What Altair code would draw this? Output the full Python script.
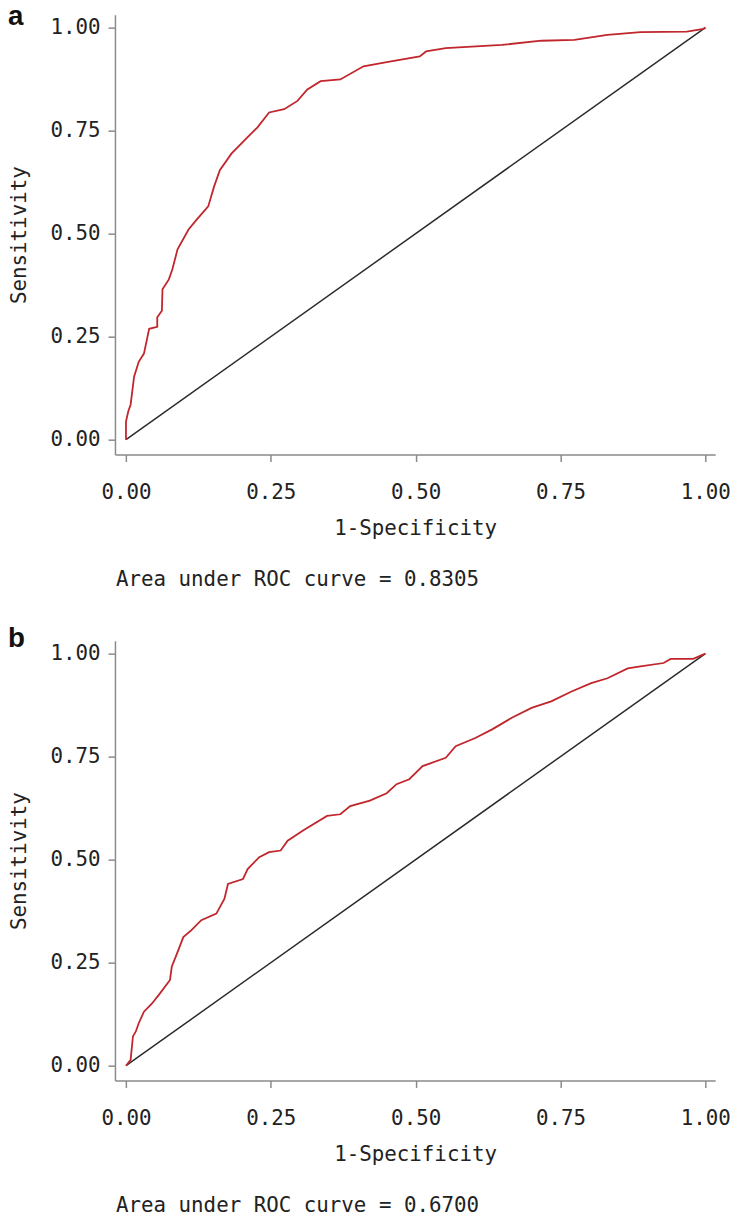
import altair as alt
import pandas as pd

# ---- data ----
fpr_a = [0, 0, 0.004, 0.008, 0.014, 0.022, 0.031, 0.040, 0.054, 0.054, 0.062, 0.063,
         0.074, 0.080, 0.089, 0.108, 0.122, 0.142, 0.152, 0.162, 0.182, 0.207, 0.227,
         0.247, 0.273, 0.296, 0.313, 0.336, 0.370, 0.410, 0.450, 0.507, 0.518, 0.552,
         0.649, 0.717, 0.774, 0.831, 0.888, 0.968, 0.997, 1.0]
tpr_a = [0, 0.044, 0.069, 0.085, 0.153, 0.189, 0.209, 0.269, 0.274, 0.297, 0.313, 0.365,
         0.389, 0.413, 0.462, 0.510, 0.534, 0.566, 0.614, 0.654, 0.694, 0.730, 0.758,
         0.794, 0.802, 0.822, 0.850, 0.870, 0.874, 0.906, 0.916, 0.930, 0.942, 0.950,
         0.958, 0.968, 0.970, 0.982, 0.989, 0.990, 0.997, 1.0]

fpr_b = [0, 0.008, 0.012, 0.017, 0.022, 0.031, 0.045, 0.059, 0.076, 0.079, 0.088, 0.099,
         0.113, 0.130, 0.156, 0.170, 0.176, 0.202, 0.210, 0.230, 0.247, 0.267, 0.279,
         0.307, 0.347, 0.370, 0.387, 0.421, 0.450, 0.467, 0.489, 0.512, 0.552, 0.569,
         0.603, 0.632, 0.666, 0.700, 0.734, 0.769, 0.803, 0.831, 0.866, 0.888, 0.928,
         0.940, 0.979, 0.997, 1.0]
tpr_b = [0, 0.014, 0.071, 0.083, 0.103, 0.131, 0.151, 0.176, 0.208, 0.240, 0.272, 0.312,
         0.329, 0.353, 0.369, 0.405, 0.441, 0.453, 0.477, 0.506, 0.518, 0.522, 0.546,
         0.572, 0.606, 0.610, 0.630, 0.643, 0.661, 0.683, 0.695, 0.727, 0.747, 0.775,
         0.795, 0.816, 0.844, 0.868, 0.884, 0.908, 0.928, 0.940, 0.964, 0.969, 0.977,
         0.987, 0.987, 0.998, 1.0]

diag = [0.0, 1.0]
tick_values = [0.0, 0.25, 0.5, 0.75, 1.0]
panel_labels = ["a", "b"]
auc_texts = ["Area under ROC curve = 0.8305", "Area under ROC curve = 0.6700"]
x_title = "1-Specificity"
y_title = "Sensitivity"

MONO = "DejaVu Sans Mono"
RED = "#c0262c"
AXIS_GRAY = "#8a8a8a"
FS = 21


def panel(fpr, tpr, auc, label, label_y):
    xs = alt.Scale(domain=[-0.019, 1.017], nice=False, zero=False)
    ys = alt.Scale(domain=[-0.036, 1.031], nice=False, zero=False)
    xax = alt.Axis(values=tick_values, format=".2f", title=x_title)
    yax = alt.Axis(values=tick_values, format=".2f", title=y_title)

    curve_df = pd.DataFrame({"fpr": fpr, "tpr": tpr, "i": list(range(len(fpr)))})
    diag_df = pd.DataFrame({"fpr": diag, "tpr": diag, "i": [0, 1]})

    diag_line = alt.Chart(diag_df).mark_line(color="#2b2b2b", strokeWidth=1.5, clip=False).encode(
        x=alt.X("fpr:Q", scale=xs, axis=xax),
        y=alt.Y("tpr:Q", scale=ys, axis=yax),
        order="i:Q",
    )
    curve = alt.Chart(curve_df).mark_line(color=RED, strokeWidth=1.8, clip=False).encode(
        x=alt.X("fpr:Q", scale=xs, axis=xax),
        y=alt.Y("tpr:Q", scale=ys, axis=yax),
        order="i:Q",
    )
    auc_text = alt.Chart(pd.DataFrame({"t": [auc]})).mark_text(
        align="left", baseline="alphabetic", font=MONO, fontSize=FS, color="#222222"
    ).encode(x=alt.value(1), y=alt.value(577), text="t:N")
    label_text = alt.Chart(pd.DataFrame({"t": [label]})).mark_text(
        align="left", baseline="alphabetic", font="Liberation Sans", fontSize=28,
        fontWeight="bold", color="#111111"
    ).encode(x=alt.value(-108), y=alt.value(label_y), text="t:N")
    return alt.layer(diag_line, curve, auc_text, label_text).properties(width=606, height=444)


top = panel(fpr_a, tpr_a, auc_texts[0], panel_labels[0], 10)
bottom = panel(fpr_b, tpr_b, auc_texts[1], panel_labels[1], 6)

chart = alt.vconcat(top, bottom, spacing=35).properties(
    padding={"left": 0, "top": -11, "right": 5, "bottom": 0},
    background="white",
).configure_view(stroke=None).configure_axis(
    grid=False,
    domainColor=AXIS_GRAY,
    domainWidth=1.5,
    tickColor=AXIS_GRAY,
    tickWidth=1.5,
    tickSize=7,
    labelFont=MONO,
    labelFontSize=FS,
    labelColor="#222222",
    titleFont=MONO,
    titleFontSize=FS,
    titleFontWeight="normal",
    titleColor="#222222",
).configure_axisX(
    labelPadding=20,
    titlePadding=16,
).configure_axisY(
    labelPadding=8,
    titlePadding=21,
    labelAngle=0,
)

chart.save("out.html", embed_options={"renderer": "svg", "actions": False})
